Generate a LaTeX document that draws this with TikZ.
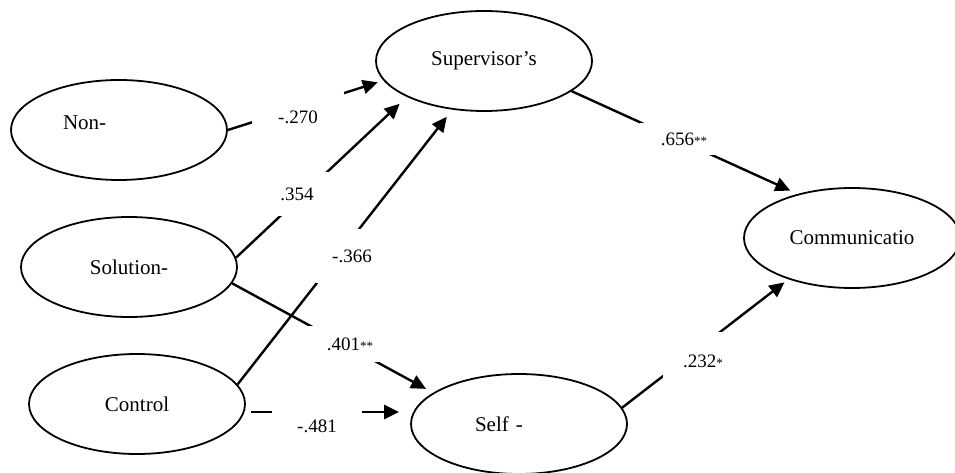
\documentclass[tikz,border=0pt]{standalone}
\usepackage{fontspec}
\setmainfont{Liberation Serif}
\usetikzlibrary{shapes.geometric,arrows.meta}

\begin{document}
\begin{tikzpicture}[x=1pt, y=-1pt,
  construct/.style={draw, ellipse, line width=1.8pt, minimum width=216pt,
    minimum height=100pt, inner sep=0pt, font=\fontsize{21}{25}\selectfont},
  link/.style={line width=2.4pt, -{Triangle[length=15pt,width=14pt]}},
  coef/.style={fill=white, inner sep=0pt, font=\fontsize{19}{23}\selectfont},
  stars/.style={font=\fontsize{13}{13}\selectfont}]
  \useasboundingbox (0,0) rectangle (955,473);

  % constructs
  \node[construct, text width=112pt, align=left, text depth=14pt] (non) at (119,130) {Non-};
  \node[construct] (sup) at (484,61) {Supervisor's};
  \node[construct] (sol) at (129,267) {Solution-};
  \node[construct] (ctrl) at (137,404) {Control};
  \node[construct, text width=88pt, align=left] (self) at (519,424) {Self -};
  \node[construct] (comm) at (852,238) {Communicatio};

  % paths
  \draw[link, shorten >=6pt] (non.east) -- (sup.191);
  \draw[link, shorten >=10pt] (sol.5) -- (sup.205);
  \draw[link, shorten >=9pt] (ctrl.11) -- (sup.237);
  \draw[link, shorten >=8pt] (sol.-9) -- (self.160);
  \draw[link, shorten <=5pt, shorten >=11pt] ([yshift=-8pt]ctrl.east) -- ([yshift=12pt]self.west);
  \draw[link, shorten >=8pt] (sup.-19) -- (comm.141);
  \draw[link, shorten >=5pt] (self.9) -- (comm.213);

  % coefficients
  \node[coef, minimum width=92pt, minimum height=50pt] (b1) at (298,117) {-.270};
  \node[coef, minimum width=68pt, minimum height=44pt] (b2) at (297,194) {.354};
  \node[coef, minimum width=72pt, minimum height=54pt] (b3) at (352,256) {-.366};
  \node[coef, minimum width=84pt, minimum height=36pt] (b4) at (350,344) {.401{\fontsize{13}{13}\selectfont **}};
  \node[coef, minimum width=90pt, minimum height=36pt] (b5) at (317,426) {-.481};
  \node[coef, minimum width=88pt, minimum height=32pt] (b6) at (684,139) {.656{\fontsize{13}{13}\selectfont **}};
  \node[coef, minimum width=80pt, minimum height=58pt] (b7) at (703,361) {.232{\fontsize{13}{13}\selectfont *}};
\end{tikzpicture}
\end{document}
